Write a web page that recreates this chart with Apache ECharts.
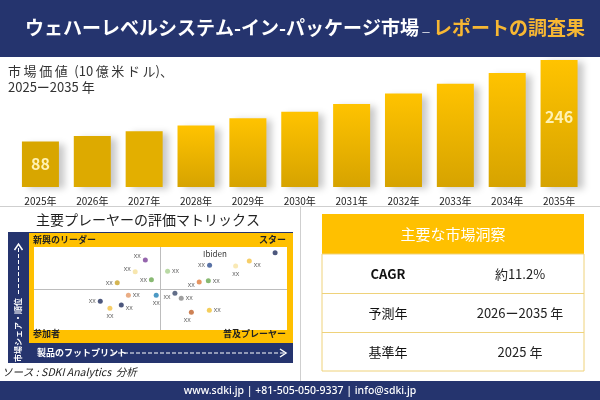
<!DOCTYPE html>
<html>
<head>
<meta charset="utf-8">
<script src="https://cdn.jsdelivr.net/npm/echarts@6/dist/echarts.min.js"></script>
<style>
  html, body { margin: 0; padding: 0; background: #fff; }
  #main { width: 600px; height: 400px; }
</style>
</head>
<body>
<div id="main"></div>
<script>
// 市場価値（10億米ドル）
var years = ['2025年', '2026年', '2027年', '2028年', '2029年', '2030年', '2031年', '2032年', '2033年', '2034年', '2035年'];
var marketValues = [88, 99, 108, 119, 133, 146, 161, 181, 200, 221, 246];

// 評価マトリックスのプレーヤー（0-100 の相対位置）
var playerNames = ['', 'xx', 'xx', 'xx', 'xx', 'xx', 'xx', 'xx', 'xx', 'xx', 'xx', 'xx', 'xx', 'xx', 'xx', 'xx', 'xx', 'xx', 'xx', 'xx'];
var playerX = [95.3, 44.0, 40.0, 46.4, 32.9, 52.8, 69.4, 79.7, 85.1, 65.3, 68.9, 37.3, 48.3, 26.2, 34.5, 30.0, 55.7, 58.2, 62.2, 69.3];
var playerY = [93.1, 84.3, 70.2, 60.6, 57.0, 70.7, 78.0, 77.1, 83.1, 57.8, 59.4, 41.8, 41.8, 34.6, 30.1, 26.1, 44.2, 38.2, 21.3, 23.7];

// 主要な市場洞察
var insightKeys = ['CAGR', '予測年', '基準年'];
var insightValues = ['約11.2%', '2026ー2035 年', '2025 年'];

var NAVY = '#25346e';
var GOLD = '#FFC000';
var FONT = '"Noto Sans CJK JP", "Noto Sans", sans-serif';

var playerColors = ['#1f2d5c', '#7b3f98', '#f5e09a', '#6aa84f', '#c9a227', '#a8d08d', '#2f4f8f', '#f8e3a3', '#f4c242', '#e07b39',
  '#6aa84f', '#e59866', '#1f7fb5', '#1f2d5c', '#1f2d5c', '#f4c242', '#3b4a6b', '#888888', '#c0612b', '#f1c232'];
var labelPos = [['top', [0, 0]], ['left', [0, -4]], ['left', [0, -3]], ['left', [0, 0]], ['left', [0, 0]], ['right', [0, 0]],
  ['left', [0, 0]], ['bottom', [0, 0]], ['right', [0, 4]], ['left', [0, 3]], ['right', [0, 0]], ['right', [0, 0]],
  ['bottom', [0, 0]], ['left', [0, 0]], ['right', [0, 3]], ['bottom', [0, 0]], ['left', [0, 4]], ['right', [0, 0]],
  ['bottom', [-4, 0]], ['right', [0, 0]]];

var myChart = echarts.init(document.getElementById('main'));

var barData = marketValues.map(function (v, i) {
  var color;
  if (i < 3) {
    color = ['#D8A600', '#DDAA00', '#E3AF00'][i];
  } else {
    color = new echarts.graphic.LinearGradient(0, 0, 0, 1, [
      { offset: 0, color: '#FFC300' },
      { offset: 1, color: '#D6A300' }
    ]);
  }
  var item = { value: v, itemStyle: { color: color } };
  if (i === 0 || i === marketValues.length - 1) {
    item.label = { show: true, offset: i === 0 ? [0, 0] : [0, -7] };
  }
  return item;
});

var scatterData = playerX.map(function (x, i) {
  return {
    name: playerNames[i],
    value: [x, playerY[i]],
    itemStyle: { color: playerColors[i] },
    label: { position: labelPos[i][0], offset: labelPos[i][1] }
  };
});

// 表のグラフィック
var tableGraphics = [
  { type: 'rect', shape: { x: 322, y: 214, width: 262, height: 40 }, style: { fill: GOLD } },
  { type: 'text', x: 453, y: 234, style: { text: '主要な市場洞察', fill: '#fff', font: '15px ' + FONT, textAlign: 'center', textVerticalAlign: 'middle' } },
  { type: 'rect', shape: { x: 322, y: 254, width: 262, height: 117 }, style: { fill: '#fff', stroke: '#EFD27A', lineWidth: 1 } },
  { type: 'line', shape: { x1: 322, y1: 293.5, x2: 584, y2: 293.5 }, style: { stroke: '#EFD27A', lineWidth: 1 } },
  { type: 'line', shape: { x1: 322, y1: 332.5, x2: 584, y2: 332.5 }, style: { stroke: '#EFD27A', lineWidth: 1 } }
];
var rowCenters = [274, 313, 352];
for (var r = 0; r < insightKeys.length; r++) {
  tableGraphics.push({ type: 'text', x: 388, y: rowCenters[r], style: { text: insightKeys[r], fill: '#111',
    font: (r === 0 ? 'bold ' : '') + '13px ' + FONT, textAlign: 'center', textVerticalAlign: 'middle' } });
  tableGraphics.push({ type: 'text', x: 520, y: rowCenters[r], style: { text: insightValues[r], fill: '#222',
    font: '13px ' + FONT, textAlign: 'center', textVerticalAlign: 'middle' } });
}

var option = {
  backgroundColor: '#fff',
  animation: false,
  grid: [
    { left: 14.5, right: 15, top: 60, height: 127 },
    { left: 34, top: 247, width: 253, height: 83 }
  ],
  xAxis: [
    {
      gridIndex: 0, type: 'category', data: years,
      axisLine: { show: false }, axisTick: { show: false },
      axisLabel: { fontSize: 10, color: '#222', margin: 9, fontFamily: FONT }
    },
    { gridIndex: 1, type: 'value', min: 0, max: 100, show: false }
  ],
  yAxis: [
    { gridIndex: 0, type: 'value', min: 0, max: 246, show: false },
    { gridIndex: 1, type: 'value', min: 0, max: 100, show: false }
  ],
  graphic: {
    elements: [
      { type: 'rect', z: -10, shape: { x: 0, y: 0, width: 600, height: 57 }, style: { fill: NAVY } },
      { type: 'text', x: 305, y: 28, style: {
          text: '{w|ウェハーレベルシステム-イン-パッケージ市場}{s|－}{o|レポートの調査果}',
          textAlign: 'center', textVerticalAlign: 'middle',
          rich: {
            w: { fill: '#fff', fontSize: 19, fontWeight: 'bold', fontFamily: FONT },
            s: { fill: '#fff', fontSize: 10, fontFamily: FONT, padding: [8, 2, 0, 2] },
            o: { fill: '#F7B733', fontSize: 19, fontWeight: 'bold', fontFamily: FONT }
          }
        } },
      { type: 'text', x: 8, y: 63, style: {
          text: '市\u2009場\u2009価\u2009値\u2002(10\u2009億\u2009米\u2009ド\u2009ル)、\n2025ー2035 年', fill: '#333',
          font: '13px ' + FONT, lineHeight: 16 } },
      { type: 'line', shape: { x1: 0, y1: 206.5, x2: 600, y2: 206.5 }, style: { stroke: '#cfcfcf', lineWidth: 1 } },
      { type: 'line', shape: { x1: 300.5, y1: 206, x2: 300.5, y2: 381 }, style: { stroke: '#cfcfcf', lineWidth: 1 } },

      // 評価マトリックス
      { type: 'text', x: 148, y: 220, style: { text: '主要プレーヤーの評価マトリックス', fill: '#222', font: '14px ' + FONT,
          textAlign: 'center', textVerticalAlign: 'middle' } },
      { type: 'rect', z: -10, shape: { x: 8, y: 232, width: 285, height: 131 }, style: { fill: NAVY } },
      { type: 'rect', z: -9, shape: { x: 29, y: 233, width: 264, height: 110 }, style: { fill: GOLD } },
      { type: 'rect', z: -8, shape: { x: 34, y: 247, width: 253, height: 83 }, style: { fill: '#fff' } },
      { type: 'line', z: -7, shape: { x1: 160.5, y1: 247, x2: 160.5, y2: 330 }, style: { stroke: '#bdbdbd', lineWidth: 1 } },
      { type: 'line', z: -7, shape: { x1: 34, y1: 289.5, x2: 287, y2: 289.5 }, style: { stroke: '#bdbdbd', lineWidth: 1 } },
      { type: 'text', x: 33, y: 240, style: { text: '新興のリーダー', fill: '#222', font: 'bold 9px ' + FONT, textVerticalAlign: 'middle' } },
      { type: 'text', x: 286, y: 240, style: { text: 'スター', fill: '#222', font: 'bold 9px ' + FONT, textAlign: 'right', textVerticalAlign: 'middle' } },
      { type: 'text', x: 33, y: 334, style: { text: '参加者', fill: '#222', font: 'bold 9px ' + FONT, textVerticalAlign: 'middle' } },
      { type: 'text', x: 286, y: 334, style: { text: '普及プレーヤー', fill: '#222', font: 'bold 9px ' + FONT, textAlign: 'right', textVerticalAlign: 'middle' } },
      { type: 'text', x: 215, y: 254, style: { text: 'Ibiden', fill: '#333', font: '8px ' + FONT, textAlign: 'center', textVerticalAlign: 'middle' } },
      { type: 'text', x: 37, y: 353, style: { text: '製品のフットプリント', fill: '#fff', font: 'bold 9px ' + FONT, textVerticalAlign: 'middle' } },
      { type: 'line', shape: { x1: 112, y1: 353, x2: 284, y2: 353 }, style: { stroke: '#fff', lineWidth: 1, lineDash: [4, 2] } },
      { type: 'polyline', shape: { points: [[280, 349], [286, 353], [280, 357]] }, style: { stroke: '#fff', lineWidth: 1.5, fill: null } },
      { type: 'text', x: 18, y: 330, rotation: Math.PI / 2, style: { text: '市場シェア・順位', fill: '#fff', font: 'bold 8px ' + FONT,
          textAlign: 'center', textVerticalAlign: 'middle' } },
      { type: 'line', shape: { x1: 18.5, y1: 294, x2: 18.5, y2: 246 }, style: { stroke: '#fff', lineWidth: 1, lineDash: [4, 2] } },
      { type: 'polyline', shape: { points: [[14.5, 250], [18.5, 244], [22.5, 250]] }, style: { stroke: '#fff', lineWidth: 1.5, fill: null } },
      { type: 'text', x: 2, y: 372, style: { text: 'ソース : SDKI Analytics  分析', fill: '#222', font: 'italic 10.5px ' + FONT, textVerticalAlign: 'middle' } },

      // フッター
      { type: 'rect', z: -10, shape: { x: 0, y: 381, width: 600, height: 19 }, style: { fill: NAVY } },
      { type: 'text', x: 300, y: 391, style: { text: 'www.sdki.jp | +81-505-050-9337 | info@sdki.jp', fill: '#fff',
          font: '500 10.5px "Noto Sans", sans-serif', textAlign: 'center', textVerticalAlign: 'middle' } }
    ].concat(tableGraphics)
  },
  series: [
    {
      type: 'bar', xAxisIndex: 0, yAxisIndex: 0,
      data: barData, barWidth: 37,
      itemStyle: { shadowColor: 'rgba(0,0,0,0.22)', shadowBlur: 7, shadowOffsetX: 6, shadowOffsetY: 2 },
      label: { show: false, position: 'inside', color: '#FFF2B3', fontSize: 16, fontWeight: 'bold', fontFamily: FONT }
    },
    {
      type: 'scatter', xAxisIndex: 1, yAxisIndex: 1,
      data: scatterData, symbolSize: 5,
      label: { show: true, formatter: '{b}', fontSize: 7, color: '#444', distance: 2 }
    }
  ]
};

myChart.setOption(option);
</script>
</body>
</html>
